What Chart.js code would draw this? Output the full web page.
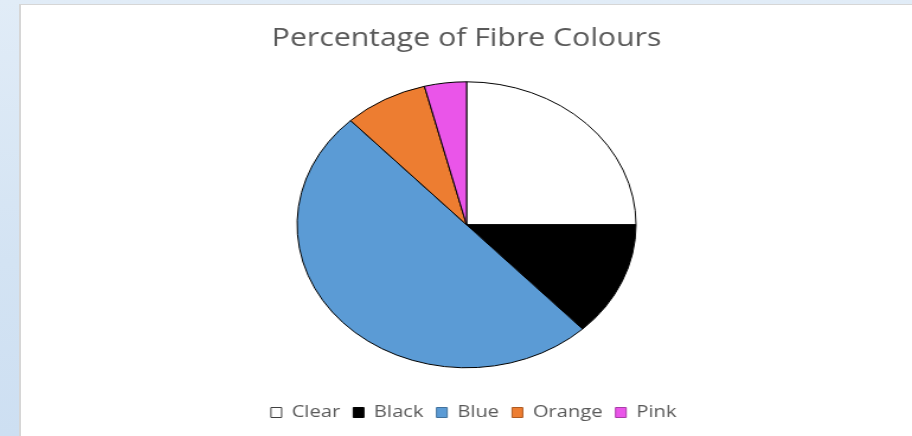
<!DOCTYPE html>
<html>
<head>
<meta charset="utf-8">
<script src="https://cdn.jsdelivr.net/npm/chart.js@4"></script>
<style>
  html, body { margin: 0; padding: 0; }
  body {
    width: 912px; height: 436px; overflow: hidden;
    background: linear-gradient(180deg, #e1ecf7 0%, #d3e3f3 60%, #cddff2 100%);
    position: relative;
    font-family: "Open Sans", sans-serif;
  }
  #frame {
    position: absolute; left: 19px; top: 4px; right: 0; bottom: 0;
    background: #ffffff;
    border-left: 2px solid #d6d6d6;
    border-top: 1px solid #d6d6d6;
    overflow: hidden;
  }
  /* chart is laid out narrower, then widened to fill the frame */
  #wrap {
    position: absolute; left: 0; top: 0; width: 752px; height: 431px;
    transform: scaleX(1.185); transform-origin: 0 0;
  }
</style>
</head>
<body>
<div id="frame"><div id="wrap"><canvas id="pie"></canvas></div></div>
<script>
const categories = ["Clear", "Black", "Blue", "Orange", "Pink"];
const percentages = [25, 13, 50, 8, 4];
const sliceColours = ["#ffffff", "#000000", "#5b9bd5", "#ed7d31", "#ea55e9"];
const keyBorders = ["#404040", "#000000", "#41719c", "#ae5a21", "#a93ca8"];

// nudge the legend row a little to the right of centre
const legendShift = {
  id: "legendShift",
  afterLayout(chart, args, opts) {
    if (chart.legend) {
      chart.legend.left += opts.dx;
      chart.legend.right += opts.dx;
    }
  }
};

new Chart(document.getElementById("pie"), {
  type: "pie",
  data: {
    labels: categories,
    datasets: [{
      data: percentages,
      backgroundColor: sliceColours,
      borderColor: "#000000",
      borderWidth: 1,
      radius: 143
    }]
  },
  plugins: [legendShift],
  options: {
    responsive: true,
    maintainAspectRatio: false,
    animation: false,
    events: [],
    layout: { padding: { top: 0, bottom: 5 } },
    plugins: {
      legendShift: { dx: 6 },
      tooltip: { enabled: false },
      title: {
        display: true,
        text: "Percentage of Fibre Colours",
        color: "#595959",
        font: { family: "Open Sans", size: 25.5, weight: "normal" },
        padding: { top: 18, bottom: 3 }
      },
      legend: {
        position: "bottom",
        labels: {
          color: "#595959",
          font: { family: "Open Sans", size: 17 },
          boxWidth: 9,
          boxHeight: 10,
          padding: 11,
          generateLabels(chart) {
            return categories.map((c, i) => ({
              text: c,
              fillStyle: sliceColours[i],
              strokeStyle: keyBorders[i],
              lineWidth: 1,
              fontColor: "#595959",
              index: i,
              hidden: false
            }));
          }
        }
      }
    }
  }
});
</script>
</body>
</html>
